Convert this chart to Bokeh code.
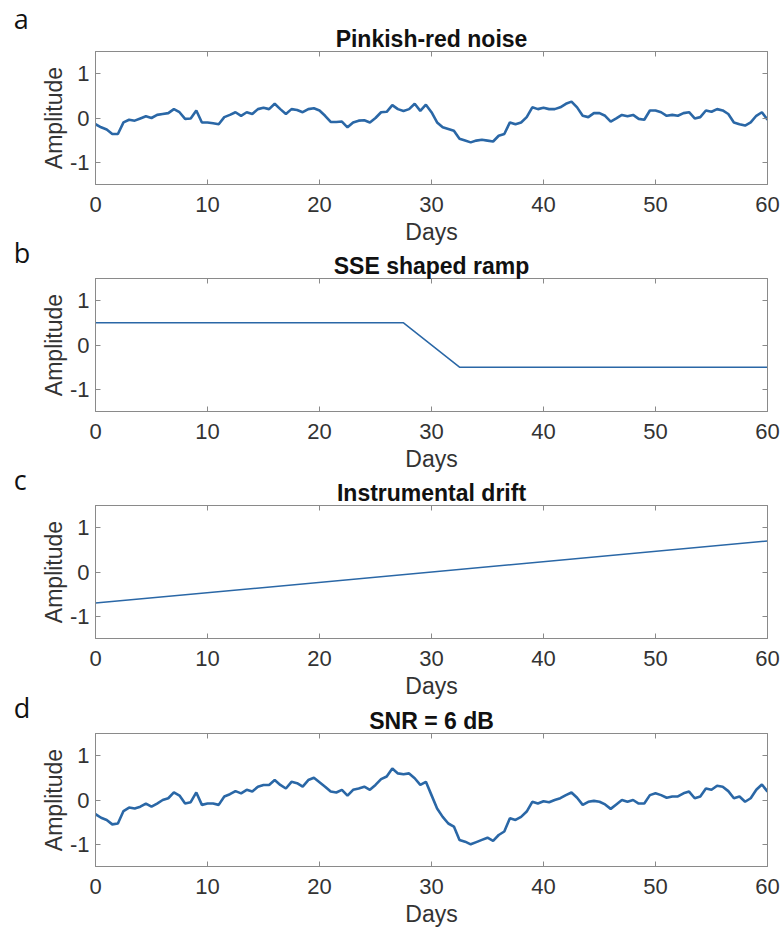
from bokeh.plotting import figure
from bokeh.layouts import column
from bokeh.models import LinearAxis, FixedTicker, Label, Range1d, CustomLabelingPolicy
from bokeh.embed import file_html
from bokeh.resources import INLINE

# ---------------- data ----------------
days = [i * 0.5 for i in range(121)]

pinkish_red_noise = [
    -0.14, -0.21, -0.26, -0.36, -0.36, -0.10, -0.04, -0.06, -0.01, 0.04,
    0.00, 0.07, 0.09, 0.11, 0.20, 0.13, -0.02, -0.01, 0.17, -0.10,
    -0.10, -0.12, -0.14, 0.02, 0.07, 0.13, 0.05, 0.13, 0.09, 0.20,
    0.23, 0.20, 0.32, 0.20, 0.09, 0.20, 0.18, 0.13, 0.20, 0.22,
    0.17,
    0.05, -0.09, -0.09, -0.08, -0.21, -0.10, -0.06, -0.05, -0.10, 0.00,
    0.13, 0.14, 0.29, 0.20, 0.16, 0.20, 0.32, 0.16, 0.30, 0.13,
    -0.10, -0.21, -0.25, -0.29, -0.47, -0.51, -0.55, -0.51, -0.49, -0.51,
    -0.53, -0.40, -0.36, -0.10, -0.14, -0.10, 0.02, 0.24, 0.20, 0.23,
    0.20, 0.20, 0.24, 0.32, 0.37, 0.24, 0.05, 0.02, 0.11, 0.11,
    0.05, -0.08, -0.01, 0.07, 0.04, 0.07, -0.02, -0.04, 0.17, 0.17,
    0.13, 0.05, 0.07, 0.05, 0.11, 0.13, -0.01, 0.02, 0.17, 0.14,
    0.20, 0.17, 0.09, -0.10, -0.14, -0.17, -0.10, 0.05, 0.13, -0.04,
]

ramp_days = [0, 27.5, 32.5, 60]
ramp_amp = [0.5, 0.5, -0.5, -0.5]

drift_days = [0, 60]
drift_amp = [-0.7, 0.7]

snr_signal = [
    -0.32, -0.40, -0.45, -0.55, -0.53, -0.25, -0.17, -0.19, -0.15, -0.08,
    -0.15, -0.08, 0.00, 0.04, 0.17, 0.10, -0.08, -0.05, 0.17, -0.11,
    -0.08, -0.08, -0.11, 0.08, 0.13, 0.20, 0.15, 0.23, 0.19, 0.30,
    0.34, 0.34, 0.45, 0.34, 0.26, 0.41, 0.38, 0.30, 0.45, 0.50,
    0.40,
    0.30, 0.19, 0.17, 0.23, 0.10, 0.23, 0.26, 0.30, 0.23, 0.34,
    0.47, 0.53, 0.71, 0.60, 0.58, 0.60, 0.49, 0.34, 0.41, 0.11,
    -0.19, -0.38, -0.53, -0.60, -0.90, -0.94, -1.00, -0.95, -0.90, -0.85,
    -0.92, -0.79, -0.71, -0.41, -0.45, -0.38, -0.26, -0.04, -0.08, -0.03,
    -0.05, 0.00, 0.04, 0.11, 0.17, 0.05, -0.11, -0.04, -0.02, -0.04,
    -0.10, -0.20, -0.10, 0.00, -0.04, 0.00, -0.08, -0.08, 0.11, 0.15,
    0.11, 0.05, 0.08, 0.08, 0.15, 0.19, 0.04, 0.08, 0.26, 0.23,
    0.32, 0.30, 0.20, 0.04, 0.08, -0.04, 0.04, 0.23, 0.35, 0.19,
]

x_ticks = [0, 10, 20, 30, 40, 50, 60]
y_ticks = [-1, 0, 1]
y_tick_labels = {-1: "-1", 0: "0", 1: "1"}

panel_letters = ["a", "b", "c", "d"]
panel_titles = ["Pinkish-red noise", "SSE shaped ramp", "Instrumental drift", "SNR = 6 dB"]

# ---------------- styling ----------------
LINE_COLOR = "#2a67a6"
AXIS_COLOR = "#8a8a8a"
TEXT_COLOR = "#333333"
FONT = "Liberation Sans"


def style_axis(ax, show_labels):
    ax.axis_line_color = AXIS_COLOR
    ax.major_tick_line_color = AXIS_COLOR
    ax.minor_tick_line_color = None
    ax.major_tick_in = 5
    ax.major_tick_out = 0
    ax.major_label_text_font = FONT
    ax.major_label_text_color = TEXT_COLOR
    if show_labels:
        ax.major_label_text_font_size = "22px"
    else:
        ax.major_label_text_font_size = "0px"
        ax.major_label_policy = CustomLabelingPolicy(
            code="for (const i of indices) indices.unset(i)")
        ax.major_label_standoff = 0


def make_panel(letter, title, xs, ys, lw, top_border, bottom_border, letter_y, margin_top):
    p = figure(
        frame_width=672, frame_height=133,
        x_range=Range1d(0, 60), y_range=Range1d(-1.5, 1.5),
        output_backend="svg", toolbar_location=None,
        min_border_left=95, min_border_right=14,
        min_border_top=top_border, min_border_bottom=bottom_border,
        title=title, margin=(margin_top, 0, 0, 0),
    )
    p.title.text_font = FONT
    p.title.text_font_style = "bold"
    p.title.text_font_size = "23px"
    p.title.align = "center"
    p.title.text_color = "#111111"
    p.title.standoff = 0
    p.xgrid.visible = False
    p.ygrid.visible = False
    p.outline_line_color = AXIS_COLOR
    p.background_fill_color = "white"
    p.border_fill_color = None

    p.xaxis.ticker = FixedTicker(ticks=x_ticks)
    p.yaxis.ticker = FixedTicker(ticks=y_ticks)
    p.yaxis.major_label_overrides = y_tick_labels
    style_axis(p.xaxis[0], True)
    style_axis(p.yaxis[0], True)
    p.xaxis.major_label_standoff = 12
    p.yaxis.major_label_standoff = 6
    p.xaxis.axis_label = "Days"
    p.yaxis.axis_label = "Amplitude"
    for ax in (p.xaxis[0], p.yaxis[0]):
        ax.axis_label_text_font = FONT
        ax.axis_label_text_font_style = "normal"
        ax.axis_label_text_font_size = "23px"
        ax.axis_label_text_color = TEXT_COLOR
    p.xaxis.axis_label_standoff = 4
    p.yaxis.axis_label_standoff = 0

    top_ax = LinearAxis(ticker=FixedTicker(ticks=x_ticks))
    right_ax = LinearAxis(ticker=FixedTicker(ticks=y_ticks))
    style_axis(top_ax, False)
    style_axis(right_ax, False)
    p.add_layout(top_ax, "above")
    p.add_layout(right_ax, "right")

    p.line(xs, ys, line_color=LINE_COLOR, line_width=lw)

    # panel letter, placed in the (unclipped) left side panel
    p.add_layout(Label(x=-7.3, y=letter_y, text=letter, text_font="Open Sans",
                       text_font_size="27px", text_color="#111111",
                       text_align="left", text_baseline="alphabetic"), "left")
    return p


pa = make_panel(panel_letters[0], panel_titles[0], days, pinkish_red_noise, 2.6, 51, 75, 2.244, 0)
pb = make_panel(panel_letters[1], panel_titles[1], ramp_days, ramp_amp, 1.5, 60, 75, 2.085, -41)
pc = make_panel(panel_letters[2], panel_titles[2], drift_days, drift_amp, 1.5, 60, 75, 2.085, -41)
pd = make_panel(panel_letters[3], panel_titles[3], days, snr_signal, 2.6, 60, 60, 2.085, -40)

layout = column(pa, pb, pc, pd, spacing=0)

with open("out.html", "w") as f:
    f.write(file_html(layout, INLINE))
